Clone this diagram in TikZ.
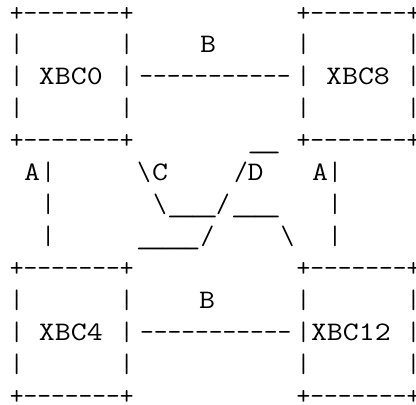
\documentclass[tikz,border=0pt]{standalone}
\usepackage{fontspec}
\usepackage{graphicx}
\newcommand\wide[1]{\scalebox{1.16}[1]{#1}}
\newcommand\uu{\_\kern-4pt\_}
\begin{document}
\begin{tikzpicture}[x=1pt,y=1pt,
  art/.style={inner sep=0pt, outer sep=0pt, anchor=base, text=black,
    font=\fontsize{26.7}{32}\selectfont\ttfamily}]
\useasboundingbox[fill=white] (0,0) rectangle (416,-405);

% box XBC0
\node[art] (b0t) at (71.7,-21)     {+-------+};
\node[art] (b0a) at (71.7,-52.95)  {|~~~~~~~|};
\node[art] (b0b) at (71.7,-84.9)   {|~~~~~~~|};
\node[art] (b0c) at (71.7,-116.85) {|~~~~~~~|};
\node[art] (b0d) at (71.7,-148.8)  {+-------+};
\node[art] (x0)  at (70.85,-84.9)  {\wide{XBC0}};
% box XBC8
\node[art] (b8t) at (358.6,-21)     {+-------+};
\node[art] (b8a) at (358.6,-52.95)  {|~~~~~~~|};
\node[art] (b8b) at (358.6,-84.9)   {|~~~~~~~|};
\node[art] (b8c) at (358.6,-116.85) {|~~~~~~~|};
\node[art] (b8d) at (358.6,-148.8)  {+-------+};
\node[art] (x8)  at (358,-84.9)     {\wide{XBC8}};
% box XBC4
\node[art] (b4t) at (71.7,-276.6)   {+-------+};
\node[art] (b4a) at (71.7,-308.55)  {|~~~~~~~|};
\node[art] (b4b) at (71.7,-340.5)   {|~~~~~~~|};
\node[art] (b4c) at (71.7,-372.45)  {|~~~~~~~|};
\node[art] (b4d) at (71.7,-404.4)   {+-------+};
\node[art] (x4)  at (70.85,-340.5)  {\wide{XBC4}};
% box XBC12
\node[art] (b12t) at (358.6,-276.6)  {+-------+};
\node[art] (b12a) at (358.6,-308.55) {|~~~~~~~|};
\node[art] (b12b) at (358.6,-340.5)  {|~~~~~~~|};
\node[art] (b12c) at (358.6,-372.45) {|~~~~~~~|};
\node[art] (b12d) at (358.6,-404.4)  {+-------+};
\node[art] (x12)  at (350.9,-340.5)  {\wide{XBC12}};

% B links
\node[art] (lb1) at (208,-52.95)  {\wide{B}};
\node[art] (e1)  at (215,-84.9)   {-----------};
\node[art] (lb2) at (207,-308.55) {\wide{B}};
\node[art] (e2)  at (215.8,-340.5) {-----------};

% A links
\node[art] (a1)  at (32,-180.75)   {\wide{A}};
\node[art] (v1a) at (48.3,-180.75) {|};
\node[art] (v1b) at (48.3,-212.7)  {|};
\node[art] (v1c) at (48.3,-244.65) {|};
\node[art] (a2)  at (320,-180.75)  {\wide{A}};
\node[art] (v2a) at (335,-180.75)  {|};
\node[art] (v2b) at (335,-212.7)   {|};
\node[art] (v2c) at (335,-244.65)  {|};

% C and D links
\node[art] (u0) at (264.2,-148.8) {\scalebox{1.43}[1]{\uu}};
\node[art] (s1) at (144,-180.75)  {\textbackslash};
\node[art] (lc) at (160,-180.75)  {\wide{C}};
\node[art] (s2) at (241,-180.75)  {/};
\node[art] (ld) at (255.5,-180.75) {\wide{D}};
\node[art] (s3) at (160,-212.7)   {\textbackslash};
\node[art] (u1) at (192.5,-212.7) {\scalebox{1.17}[1]{\uu\kern-4pt\uu}};
\node[art] (s4) at (223,-212.7)   {/};
\node[art] (u2) at (256,-212.7)   {\scalebox{1.15}[1]{\uu\kern-4pt\uu}};
\node[art] (u3) at (168.3,-244.65) {\scalebox{1.22}[1]{\uu\kern-4pt\uu\kern-4pt\_}};
\node[art] (s5) at (207.5,-244.65) {/};
\node[art] (s6) at (287.5,-244.65) {\textbackslash};
\end{tikzpicture}
\end{document}
